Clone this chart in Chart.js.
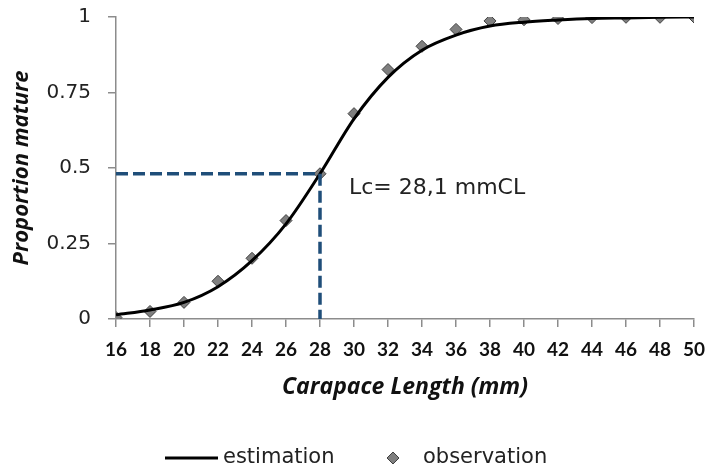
<!DOCTYPE html>
<html>
<head>
<meta charset="utf-8">
<script src="https://cdn.jsdelivr.net/npm/chart.js@4.4.1/dist/chart.umd.min.js"></script>
<style>
  html, body { margin: 0; padding: 0; background: #fff; }
  #wrap { width: 706px; height: 470px; }
</style>
</head>
<body>
<div id="wrap"><canvas id="chart"></canvas></div>
<script>
// Carapace length classes (mm)
var lengths = [16, 18, 20, 22, 24, 26, 28, 30, 32, 34, 36, 38, 40, 42, 44, 46, 48, 50];
// Observed proportion mature
var observed = [0.005, 0.025, 0.055, 0.125, 0.201, 0.326, 0.481, 0.68, 0.826, 0.903, 0.959, 0.987, 0.991, 0.995, 0.998, 0.999, 0.999, 1.0];
// Fitted curve
var estimated = [0.014, 0.03, 0.055, 0.107, 0.193, 0.315, 0.481, 0.663, 0.80, 0.89, 0.94, 0.97, 0.983, 0.99, 0.995, 0.997, 0.999, 1.0];
// Lc guide line: from y axis to the curve, then down to x axis
var lcX = [16, 28, 28];
var lcY = [0.481, 0.481, 0];
var lcLabel = 'Lc= 28,1 mmCL';
var yTicks = [0, 0.25, 0.5, 0.75, 1];

function pts(xs, ys) {
    return xs.map(function (x, i) { return { x: x, y: ys[i] }; });
}

// Text next to the Lc point + the legend under the chart
var extras = {
    id: 'extras',
    afterDraw: function (chart) {
        var ctx = chart.ctx;
        var xs = chart.scales.x, ys = chart.scales.y;
        ctx.save();
        ctx.fillStyle = '#222';
        ctx.font = '22px "DejaVu Sans"';
        ctx.textBaseline = 'middle';
        ctx.textAlign = 'left';
        ctx.fillText(lcLabel, xs.getPixelForValue(lcX[1]) + 29, ys.getPixelForValue(lcY[1]) + 15);

        // legend
        var cy = 458;
        var cx = chart.width / 2;
        ctx.strokeStyle = '#000';
        ctx.lineWidth = 3;
        ctx.beginPath();
        ctx.moveTo(cx - 188, cy);
        ctx.lineTo(cx - 135, cy);
        ctx.stroke();
        ctx.font = '21px "DejaVu Sans"';
        ctx.fillText(chart.data.datasets[1].label, cx - 130, cy);

        var dx = cx + 40, r = 6;
        ctx.fillStyle = '#7f7f7f';
        ctx.strokeStyle = '#404040';
        ctx.lineWidth = 1;
        ctx.beginPath();
        ctx.moveTo(dx, cy - r);
        ctx.lineTo(dx + r, cy);
        ctx.lineTo(dx, cy + r);
        ctx.lineTo(dx - r, cy);
        ctx.closePath();
        ctx.fill();
        ctx.stroke();
        ctx.fillStyle = '#222';
        ctx.fillText(chart.data.datasets[2].label, cx + 70, cy);
        ctx.restore();
    }
};

new Chart(document.getElementById('chart'), {
    type: 'line',
    data: {
        datasets: [{
            label: 'Lc',
            data: pts(lcX, lcY),
            borderColor: '#1f4e79',
            borderWidth: 3.5,
            borderDash: [12, 5],
            pointRadius: 0,
            tension: 0
        }, {
            label: 'estimation',
            data: pts(lengths, estimated),
            borderColor: '#000',
            borderWidth: 3,
            pointRadius: 0,
            cubicInterpolationMode: 'monotone'
        }, {
            label: 'observation',
            data: pts(lengths, observed),
            showLine: false,
            pointStyle: 'rectRot',
            pointRadius: 6,
            pointBackgroundColor: '#7f7f7f',
            pointBorderColor: '#404040',
            pointBorderWidth: 1
        }]
    },
    options: {
        responsive: true,
        maintainAspectRatio: false,
        animation: false,
        layout: { padding: { left: 7, top: 17, right: 12, bottom: 60 } },
        plugins: {
            legend: { display: false },
            tooltip: { enabled: false }
        },
        scales: {
            x: {
                type: 'linear',
                min: 16,
                max: 50,
                afterFit: function (s) {
                    s.height = 91;
                    s.paddingLeft = 0;
                    s.paddingRight = 0;
                },
                ticks: {
                    stepSize: 2,
                    padding: 11,
                    color: '#111',
                    font: { family: 'Lato', weight: 'bold', size: 19 },
                    maxRotation: 0
                },
                grid: { drawOnChartArea: false, drawTicks: true, tickLength: 8, color: '#8c8c8c', lineWidth: 1.5 },
                border: { display: true, color: '#8c8c8c', width: 1.5 },
                title: {
                    display: true,
                    text: 'Carapace Length (mm)',
                    color: '#111',
                    font: { family: 'Open Sans', weight: 'bold', style: 'italic', size: 23 },
                    padding: { top: 4, bottom: 9 }
                }
            },
            y: {
                min: 0,
                max: 1,
                afterFit: function (s) {
                    s.width = 109;
                    s.paddingTop = 0;
                    s.paddingBottom = 0;
                },
                afterBuildTicks: function (s) {
                    s.ticks = yTicks.map(function (v) { return { value: v }; });
                },
                ticks: {
                    padding: 17,
                    color: '#222',
                    font: { family: 'DejaVu Sans', size: 20 },
                    callback: function (v) { return String(v); }
                },
                grid: { drawOnChartArea: false, drawTicks: true, tickLength: 8, color: '#8c8c8c', lineWidth: 1.5 },
                border: { display: true, color: '#8c8c8c', width: 1.5 },
                title: {
                    display: true,
                    text: 'Proportion mature',
                    color: '#111',
                    font: { family: 'Open Sans', weight: 'bold', style: 'italic', size: 22 },
                    padding: { top: 2, bottom: 4 }
                }
            }
        }
    },
    plugins: [extras]
});
</script>
</body>
</html>
